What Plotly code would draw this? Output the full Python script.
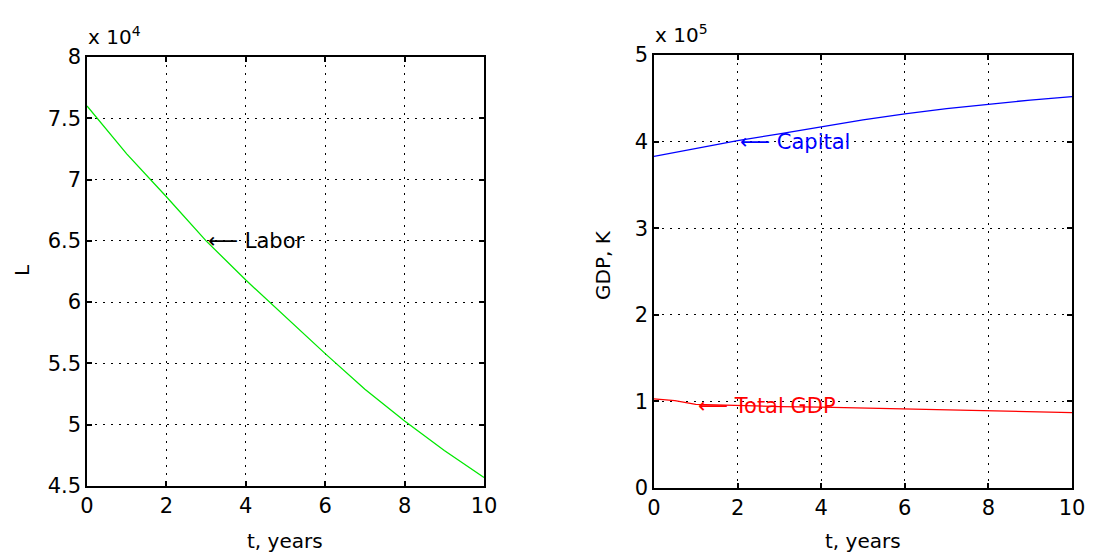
import plotly.graph_objects as go

# ---- data ----
t_years = [0, 1, 2, 3, 4, 5, 6, 7, 8, 9, 10]
labor_e4 = [7.60, 7.21, 6.86, 6.50, 6.18, 5.88, 5.58, 5.29, 5.03, 4.79, 4.57]   # x 10^4
capital_e5 = [3.83, 3.92, 4.01, 4.09, 4.17, 4.25, 4.32, 4.38, 4.43, 4.48, 4.52]  # x 10^5
t_gdp = [0, 0.5, 1, 2, 3, 4, 5, 6, 7, 8, 9, 10]
gdp_e5 = [1.03, 1.01, 0.965, 0.95, 0.94, 0.935, 0.925, 0.915, 0.905, 0.89, 0.88, 0.87]  # x 10^5

x_ticks = [0, 2, 4, 6, 8, 10]
left_y_ticks = [4.5, 5, 5.5, 6, 6.5, 7, 7.5, 8]
left_y_text = ["4.5", "5", "5.5", "6", "6.5", "7", "7.5", "8"]
right_y_ticks = [0, 1, 2, 3, 4, 5]

W, H = 1097, 553
FONT = "DejaVu Sans"

fig = go.Figure()
fig.add_trace(go.Scatter(x=t_years, y=labor_e4, mode="lines",
                         line=dict(color="#00e800", width=1.3), xaxis="x", yaxis="y"))
fig.add_trace(go.Scatter(x=t_years, y=capital_e5, mode="lines",
                         line=dict(color="#0000ff", width=1.3), xaxis="x2", yaxis="y2"))
fig.add_trace(go.Scatter(x=t_gdp, y=gdp_e5, mode="lines",
                         line=dict(color="#ff0000", width=1.3), xaxis="x2", yaxis="y2"))

common = dict(showline=True, linecolor="black", linewidth=1.5, mirror="allticks",
              ticks="inside", ticklen=5, tickcolor="black", tickwidth=1.5,
              showgrid=True, gridcolor="black", gridwidth=1.4, griddash="2px,6px",
              zeroline=False, automargin=False,
              tickfont=dict(family=FONT, size=21, color="black"))

fig.update_layout(
    width=W, height=H,
    margin=dict(l=0, r=0, t=0, b=0, pad=0, autoexpand=False),
    paper_bgcolor="white", plot_bgcolor="white",
    showlegend=False,
    xaxis=dict(domain=[87 / W, 484 / W], range=[0, 10], tickvals=x_ticks,
               anchor="y", **common),
    yaxis=dict(domain=[1 - 486 / H, 1 - 57 / H], range=[4.5, 8],
               tickvals=left_y_ticks, ticktext=left_y_text, anchor="x", **common),
    xaxis2=dict(domain=[654 / W, 1072 / W], range=[0, 10], tickvals=x_ticks,
                anchor="y2", **common),
    yaxis2=dict(domain=[1 - 488 / H, 1 - 55 / H], range=[0, 5],
                tickvals=right_y_ticks, anchor="x2", **common),
)

tf = dict(family=FONT, size=20, color="black")
lf = 21
ann = [
    # exponent labels
    dict(xref="paper", yref="paper", x=86 / W, y=1 - 36 / H, xanchor="left", yanchor="middle",
         text="x 10<sup>4</sup>", showarrow=False, font=tf),
    dict(xref="paper", yref="paper", x=653 / W, y=1 - 34 / H, xanchor="left", yanchor="middle",
         text="x 10<sup>5</sup>", showarrow=False, font=tf),
    # axis titles
    dict(xref="paper", yref="paper", x=285 / W, y=1 - 541 / H, xanchor="center", yanchor="middle",
         text="t, years", showarrow=False, font=tf),
    dict(xref="paper", yref="paper", x=863 / W, y=1 - 541 / H, xanchor="center", yanchor="middle",
         text="t, years", showarrow=False, font=tf),
    dict(xref="paper", yref="paper", x=22 / W, y=1 - 270 / H, xanchor="center", yanchor="middle",
         text="L", textangle=-90, showarrow=False, font=tf),
    dict(xref="paper", yref="paper", x=603 / W, y=1 - 265 / H, xanchor="center", yanchor="middle",
         text="GDP, K", textangle=-90, showarrow=False, font=tf),
    # in-plot labels
    dict(xref="x", yref="y", x=3, y=6.5, xanchor="left", yanchor="middle", xshift=0,
         text="\u27f5 Labor", showarrow=False, font=dict(family=FONT, size=lf, color="black")),
    dict(xref="x2", yref="y2", x=2, y=4.0, xanchor="left", yanchor="middle", xshift=0,
         text="\u27f5 Capital", showarrow=False, font=dict(family=FONT, size=lf, color="#0000ff")),
    dict(xref="x2", yref="y2", x=1, y=0.95, xanchor="left", yanchor="middle", xshift=0,
         text="\u27f5 Total GDP", showarrow=False, font=dict(family=FONT, size=lf, color="#ff0000")),
]
fig.update_layout(annotations=ann)

fig.write_html("out.html")
